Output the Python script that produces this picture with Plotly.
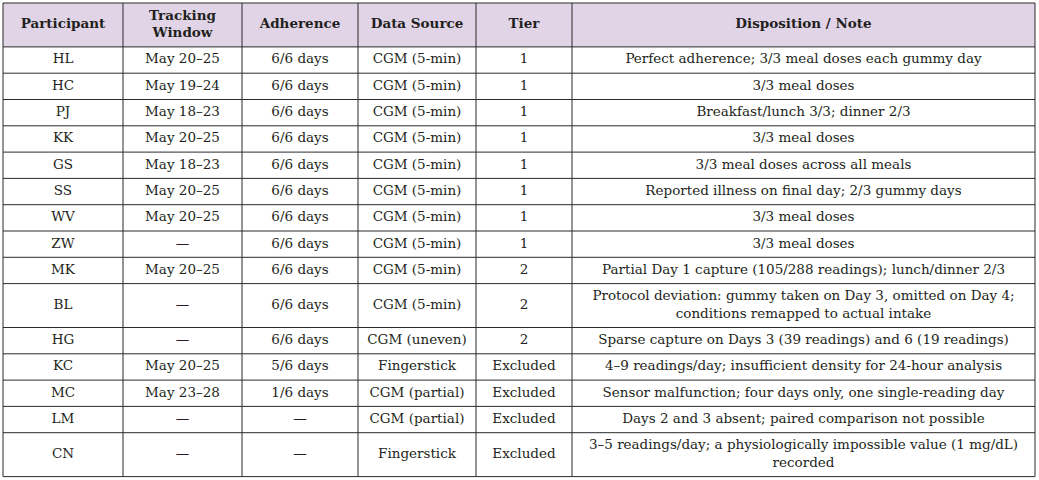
import plotly.graph_objects as go

headers = ["Participant", "Tracking<br>Window", "Adherence", "Data Source", "Tier", "Disposition / Note"]

participants = ["HL", "HC", "PJ", "KK", "GS", "SS", "WV", "ZW", "MK", "BL", "HG", "KC", "MC", "LM", "CN"]
tracking = ["May 20–25", "May 19–24", "May 18–23", "May 20–25", "May 18–23", "May 20–25", "May 20–25", "—",
            "May 20–25", "—", "—", "May 20–25", "May 23–28", "—", "—"]
adherence = ["6/6 days"] * 11 + ["5/6 days", "1/6 days", "—", "—"]
source = ["CGM (5-min)"] * 10 + ["CGM (uneven)", "Fingerstick", "CGM (partial)", "CGM (partial)", "Fingerstick"]
tier = ["1"] * 8 + ["2", "2", "2", "Excluded", "Excluded", "Excluded", "Excluded"]
notes = [
    "Perfect adherence; 3/3 meal doses each gummy day",
    "3/3 meal doses",
    "Breakfast/lunch 3/3; dinner 2/3",
    "3/3 meal doses",
    "3/3 meal doses across all meals",
    "Reported illness on final day; 2/3 gummy days",
    "3/3 meal doses",
    "3/3 meal doses",
    "Partial Day 1 capture (105/288 readings); lunch/dinner 2/3",
    "Protocol deviation: gummy taken on Day 3, omitted on Day 4;<br>conditions remapped to actual intake",
    "Sparse capture on Days 3 (39 readings) and 6 (19 readings)",
    "4–9 readings/day; insufficient density for 24-hour analysis",
    "Sensor malfunction; four days only, one single-reading day",
    "Days 2 and 3 absent; paired comparison not possible",
    "3–5 readings/day; a physiologically impossible value (1 mg/dL)<br>recorded",
]

# ---- layout constants (pixels) ----
W, H = 1039, 480
col_widths = [120, 119, 116, 118, 96, 463]
X0, Y0 = 3, 3
PAD, LINE = 8.7, 17.6
FONT = "DejaVu Serif"
FSIZE = 13.5
text_color = "#231F20"
line_color = "#2a2a2a"
header_fill = "#E1D4E7"

columns = [participants, tracking, adherence, source, tier, notes]
rows = list(zip(*columns))


def nlines(s):
    return s.count("<br>") + 1


heights = [PAD + LINE * max(nlines(h) for h in headers)] + \
          [PAD + LINE * max(nlines(c) for c in r) for r in rows]

x_edges = [X0]
for w in col_widths:
    x_edges.append(x_edges[-1] + w)
y_edges = [Y0]
for h in heights:
    y_edges.append(y_edges[-1] + h)

x_centers = [(a + b) / 2 for a, b in zip(x_edges[:-1], x_edges[1:])]
y_centers = [(a + b) / 2 for a, b in zip(y_edges[:-1], y_edges[1:])]

shapes = [dict(type="rect", xref="x", yref="y", x0=x_edges[0], x1=x_edges[-1],
               y0=y_edges[0], y1=y_edges[1], fillcolor=header_fill, line=dict(width=0), layer="below")]
for y in y_edges:
    shapes.append(dict(type="line", xref="x", yref="y", x0=x_edges[0], x1=x_edges[-1], y0=y, y1=y,
                       line=dict(color=line_color, width=1)))
for x in x_edges:
    shapes.append(dict(type="line", xref="x", yref="y", x0=x, x1=x, y0=y_edges[0], y1=y_edges[-1],
                       line=dict(color=line_color, width=1)))

fig = go.Figure()

# header text
fig.add_trace(go.Scatter(
    x=x_centers, y=[y_centers[0]] * len(headers),
    text=["<b>%s</b>" % h for h in headers],
    mode="text", textposition="middle center",
    textfont=dict(family=FONT, size=FSIZE, color=text_color),
    hoverinfo="skip", showlegend=False,
))

# body text
bx, by, bt = [], [], []
for ri, r in enumerate(rows):
    for ci, c in enumerate(r):
        bx.append(x_centers[ci])
        by.append(y_centers[ri + 1])
        bt.append(c)
fig.add_trace(go.Scatter(
    x=bx, y=by, text=bt,
    mode="text", textposition="middle center",
    textfont=dict(family=FONT, size=FSIZE, color=text_color),
    hoverinfo="skip", showlegend=False,
))

fig.update_layout(
    width=W, height=H,
    margin=dict(l=0, r=0, t=0, b=0),
    paper_bgcolor="white", plot_bgcolor="white",
    xaxis=dict(range=[0, W], visible=False, fixedrange=True),
    yaxis=dict(range=[H, 0], visible=False, fixedrange=True),
    shapes=shapes,
)

fig.write_html("out.html", config={"displayModeBar": False},
               post_script="document.body.style.margin='0px';")
